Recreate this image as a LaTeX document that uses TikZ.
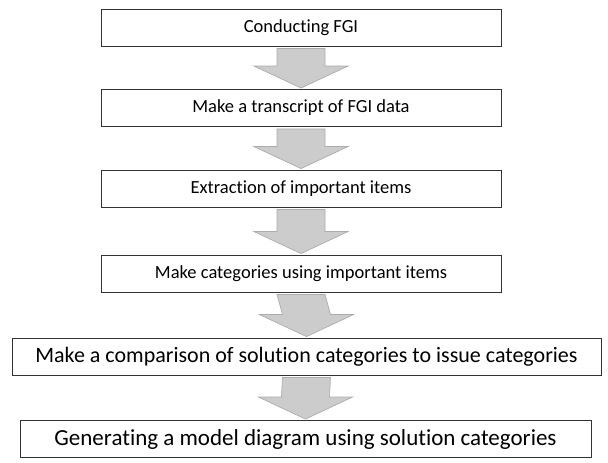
\documentclass[tikz,border=0pt]{standalone}
\usepackage{fontspec}
\setmainfont{Carlito}[RawFeature=-liga]
\usetikzlibrary{calc}

\tikzset{
  stepbox/.style={draw=black!80, line width=0.9pt, minimum height=37, inner sep=2pt, font=\fontsize{18.5}{22}\selectfont},
  wide/.style={font=\fontsize{22}{26}\selectfont},
  wider/.style={font=\fontsize{23}{27}\selectfont},
  flow/.style={fill=gray!40, draw=gray!65, line width=0.7pt}
}
% block arrow between two boxes
\newcommand{\blockarrow}[2]{%
  \path[flow] ($(#1.south)+(-24,2)$) -- ($(#1.south)+(24,2)$)
    -- ($(#2.north)+(24,-23)$) -- ($(#2.north)+(47,-23)$)
    -- ($(#2.north)+(0,-1)$) -- ($(#2.north)+(-47,-23)$)
    -- ($(#2.north)+(-24,-23)$) -- cycle;
}

\begin{document}
\begin{tikzpicture}[x=1pt, y=-1pt]
\useasboundingbox (0,0) rectangle (608,463);

\node[stepbox, minimum width=400] (fgi) at (301, 27.5) {Conducting FGI};
\node[stepbox, minimum width=400] (transcript) at (301, 108) {Make a transcript of FGI data};
\node[stepbox, minimum width=400] (extract) at (301, 188.5) {Extraction of important items};
\node[stepbox, minimum width=400] (categ) at (301, 273.5) {Make categories using important items};
\node[stepbox, wide, minimum width=589] (compare) at (306.5, 356.5) {Make a comparison of solution categories to issue categories};
\node[stepbox, wider, minimum width=571] (model) at (305.5, 439) {Generating a model diagram using solution categories};

\blockarrow{fgi}{transcript}
\blockarrow{transcript}{extract}
\blockarrow{extract}{categ}
\blockarrow{categ}{compare}
\blockarrow{compare}{model}
\end{tikzpicture}
\end{document}
